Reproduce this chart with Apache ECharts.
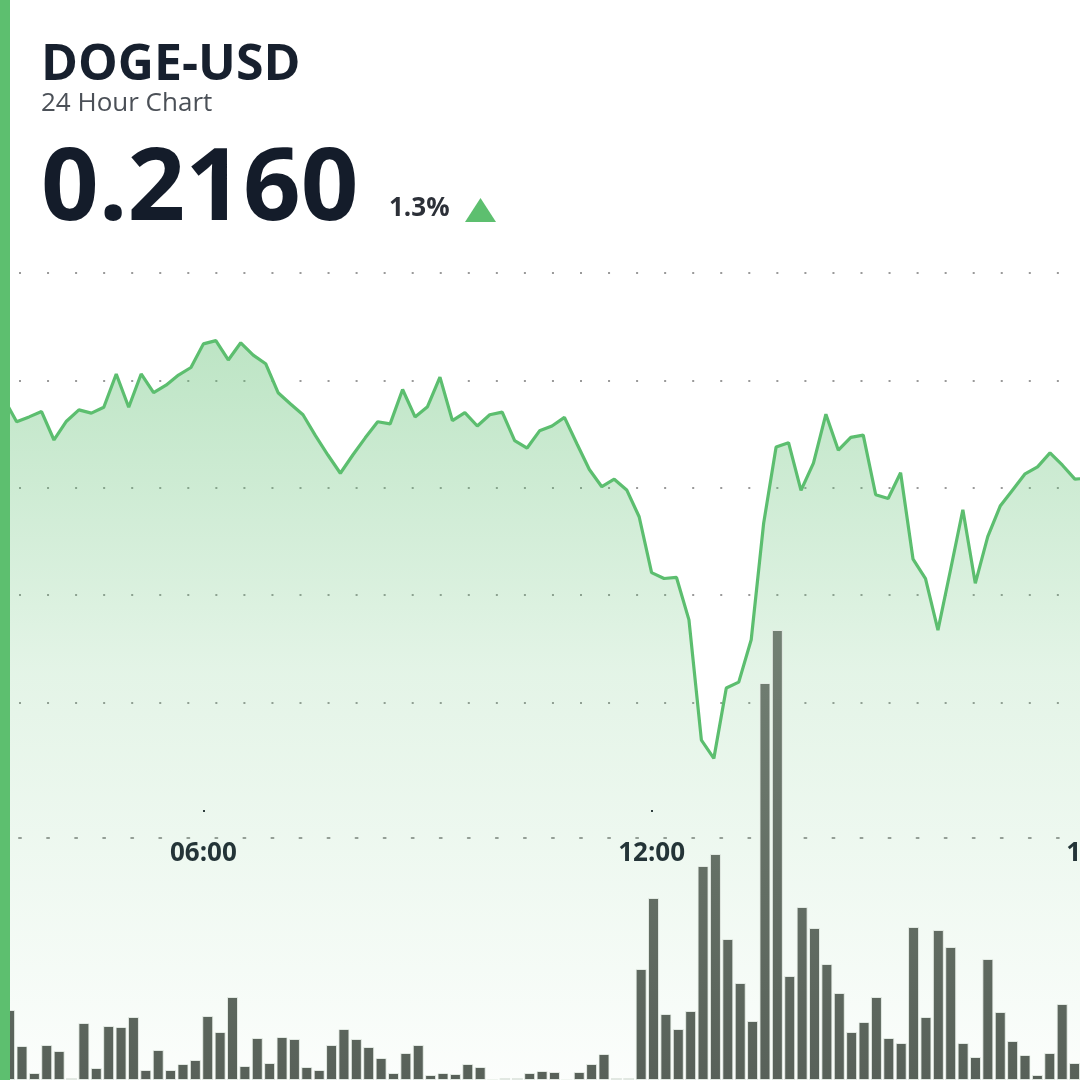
<!DOCTYPE html>
<html><head><meta charset="utf-8">
<script src="https://cdn.jsdelivr.net/npm/echarts@6/dist/echarts.min.js"></script>
<style>html,body{margin:0;padding:0;background:#fff}#c{width:1080px;height:1080px}</style>
</head><body><div id="c"></div>
<script>
const symbol = 'DOGE-USD';
const subtitle = '24 Hour Chart';
const lastPrice = '0.2160';
const changePct = '1.3%';

// 10-minute sample times (the visible part of the 24h window)
const timeLabels = [
 '03:20','03:30','03:40','03:50',
 '04:00','04:10','04:20','04:30','04:40','04:50',
 '05:00','05:10','05:20','05:30','05:40','05:50',
 '06:00','06:10','06:20','06:30','06:40','06:50',
 '07:00','07:10','07:20','07:30','07:40','07:50',
 '08:00','08:10','08:20','08:30','08:40','08:50',
 '09:00','09:10','09:20','09:30','09:40','09:50',
 '10:00','10:10','10:20','10:30','10:40','10:50',
 '11:00','11:10','11:20','11:30','11:40','11:50',
 '12:00','12:10','12:20','12:30','12:40','12:50',
 '13:00','13:10','13:20','13:30','13:40','13:50',
 '14:00','14:10','14:20','14:30','14:40','14:50',
 '15:00','15:10','15:20','15:30','15:40','15:50',
 '16:00','16:10','16:20','16:30','16:40','16:50',
 '17:00','17:10','17:20','17:30','17:40','17:50'
];

// price (USD) at each sample time
const priceValues = [
 0.21965,0.21923,0.21932,0.21942,0.21889,0.21924,0.21945,0.21939,0.21950,0.22012,
 0.21950,0.22012,0.21977,0.21991,0.22010,0.22024,0.22068,0.22074,0.22038,0.22070,
 0.22047,0.22031,0.21977,0.21956,0.21936,0.21897,0.21861,0.21827,0.21861,0.21893,
 0.21923,0.21919,0.21983,0.21932,0.21951,0.22006,0.21925,0.21940,0.21915,0.21936,
 0.21941,0.21888,0.21874,0.21906,0.21915,0.21931,0.21882,0.21834,0.21802,0.21816,
 0.21796,0.21746,0.21642,0.21631,0.21633,0.21554,0.21330,0.21296,0.21427,0.21438,
 0.21517,0.21734,0.21876,0.21884,0.21795,0.21846,0.21937,0.21870,0.21894,0.21898,
 0.21787,0.21780,0.21828,0.21667,0.21631,0.21535,0.21646,0.21759,0.21622,0.21709,
 0.21766,0.21796,0.21826,0.21839,0.21865,0.21842,0.21816,0.21818
];

// volume (millions) for the 10-minute interval starting at timeLabels[i]
const volumeValues = [
 7.0,3.4,0.7,3.5,2.9,0.2,5.7,1.2,5.4,5.3,6.3,1.0,3.0,1.0,1.6,2.0,6.4,4.8,8.3,1.4,
 4.2,1.7,4.3,4.1,1.3,1.0,3.5,5.1,4.1,3.3,2.2,0.7,2.7,3.5,0.5,0.7,0.6,1.6,1.3,0.05,
 0.2,0.2,0.7,0.9,0.8,0,0.8,1.6,2.6,0.2,0.2,11.1,18.2,6.6,5.1,6.9,21.4,22.6,14.1,9.7,
 5.9,39.7,45.0,10.4,17.3,15.2,11.6,8.7,4.8,5.8,8.3,4.2,3.7,15.3,6.3,15.0,13.3,3.7,2.3,12.1,
 6.8,3.9,2.5,0.5,2.7,7.6,1.7
];

// reference price levels (dotted guide lines)
const priceLevels = [0.214, 0.216, 0.218, 0.220, 0.222];
// time axis tick labels
const tickLabels = ['06:00', '12:00', '18:00'];

const toMin = s => { const p = s.split(':').map(Number); return p[0] * 60 + p[1]; };
const fmt = v => {
  const h = Math.floor(v / 60) % 24, m = Math.round(v % 60);
  return String(h).padStart(2, '0') + ':' + String(m).padStart(2, '0');
};

const priceData = timeLabels.map((t, i) => [toMin(t), priceValues[i]]);
const volumeData = volumeValues.map((v, i) => [toMin(timeLabels[i]) + 5, v]);

const green = '#5cbe6f';
const dotted = () => ({ color: '#9a9a9a', width: 2, type: [2, 26.05], dashOffset: 16.7 });
const levelMin = priceLevels[0], levelMax = priceLevels[priceLevels.length - 1];
const levelStep = priceLevels[1] - priceLevels[0];

const chart = echarts.init(document.getElementById('c'), null, { renderer: 'canvas' });
chart.setOption({
  animation: false,
  backgroundColor: '#ffffff',
  grid: [
    { left: -244.8, right: -94.5, top: 273, bottom: 0, containLabel: false, outerBoundsMode: 'none' },
    { left: -244.24, right: -37.89, top: 580, bottom: 0, containLabel: false, outerBoundsMode: 'none' },
    { left: -244.8, right: -94.5, top: 273, height: 429.6, containLabel: false, outerBoundsMode: 'none' }
  ],
  xAxis: [
    {
      type: 'value', gridIndex: 0, min: 0, max: 1140, interval: 360,
      position: 'bottom', offset: -242,
      axisLine: { show: true, lineStyle: dotted() },
      axisTick: { show: true, inside: true, length: 28,
        lineStyle: { color: '#2a2f38', width: 2, type: [0, 26, 2, 100] } },
      axisLabel: {
        margin: 3, fontFamily: 'Open Sans', fontWeight: 'bold', fontSize: 26, color: '#1d2431',
        formatter: v => (tickLabels.indexOf(fmt(v)) >= 0 ? fmt(v) : '')
      },
      splitLine: { show: false }
    },
    { type: 'value', gridIndex: 1, min: 0, max: 1100, show: false },
    { type: 'value', gridIndex: 2, min: 0, max: 1140, show: false }
  ],
  yAxis: [
    { type: 'value', gridIndex: 0, min: 0.20697, max: 0.222, show: false },
    { type: 'value', gridIndex: 1, min: 0, max: 50, show: false },
    {
      type: 'value', gridIndex: 2, min: levelMin, max: levelMax, interval: levelStep,
      axisLine: { show: false }, axisTick: { show: false }, axisLabel: { show: false },
      splitLine: { show: true, lineStyle: dotted() }
    }
  ],
  series: [
    {
      type: 'line', xAxisIndex: 0, yAxisIndex: 0, data: priceData, z: 2,
      symbol: 'none', smooth: false,
      lineStyle: { color: green, width: 3.2 },
      areaStyle: {
        color: { type: 'linear', x: 0, y: 0, x2: 0, y2: 1, colorStops: [
          { offset: 0, color: 'rgba(92,190,111,0.58)' },
          { offset: 0.45, color: 'rgba(92,190,111,0.24)' },
          { offset: 1, color: 'rgba(92,190,111,0.03)' }
        ] }
      }
    },
    {
      type: 'bar', xAxisIndex: 1, yAxisIndex: 1, data: volumeData, z: 3,
      barWidth: 11,
      itemStyle: {
        color: { type: 'linear', x: 0, y: 600, x2: 0, y2: 1080, global: true, colorStops: [
          { offset: 0, color: '#748275' },
          { offset: 1, color: '#586159' }
        ] },
        borderColor: 'rgba(235,242,235,0.85)', borderWidth: 1
      }
    }
  ],
  graphic: [
    { type: 'rect', z: 100, shape: { x: 0, y: 0, width: 10, height: 1080 }, style: { fill: '#5dbf6f' } },
    { type: 'text', z: 100, x: 41, y: 66, style: { text: symbol, font: 'bold 50px "Open Sans"', fill: '#17202e', verticalAlign: 'middle' } },
    { type: 'text', z: 100, x: 41, y: 104, style: { text: subtitle, font: '26px "Open Sans"', fill: '#4b5057', verticalAlign: 'middle' } },
    { type: 'text', z: 100, x: 41, y: 191, style: { text: lastPrice, font: 'bold 101px "Open Sans"', fill: '#141c2a', verticalAlign: 'middle' } },
    { type: 'text', z: 100, x: 389, y: 209, style: { text: changePct, font: 'bold 26px "Open Sans"', fill: '#2c3038', verticalAlign: 'middle' } },
    { type: 'polygon', z: 100, shape: { points: [[465, 222], [480.5, 198], [496, 222]] }, style: { fill: '#5dbf6f' } }
  ]
});
</script>
</body></html>
